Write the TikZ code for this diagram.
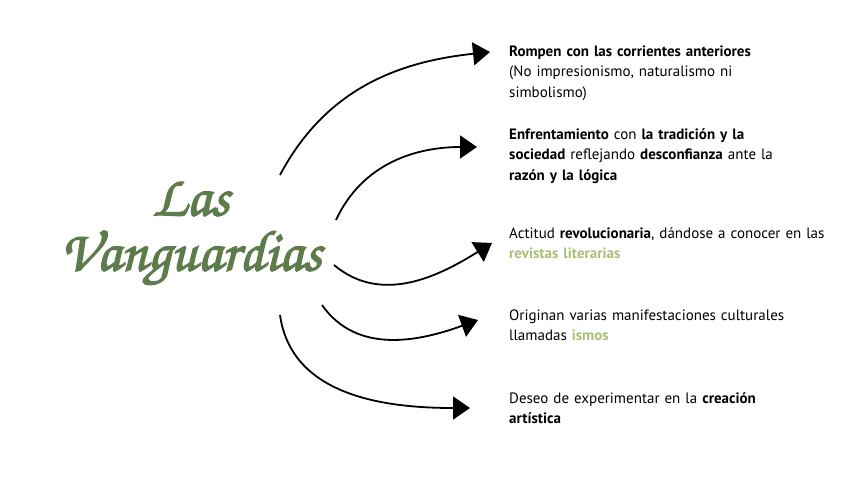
\documentclass[tikz,border=0pt]{standalone}
\usepackage{fontspec}
\setmainfont{PT Sans}
\usepackage{tikz}
\usetikzlibrary{arrows.meta}

\definecolor{verdetitulo}{HTML}{5E7B4C}
\definecolor{verdeclaro}{HTML}{A9BF78}

\tikzset{
    flecha/.style={line width=1.8pt, -{Triangle[length=17pt,width=23pt]}},
    texto/.style={anchor=base west, inner sep=0pt, text width=335pt, align=left,
        font=\fontsize{15}{20.5}\selectfont}
}
\newcommand{\resalte}[1]{\textbf{\textcolor{verdeclaro}{#1}}}
\newcommand{\trazo}[1]{\special{pdf:literal direct 2 Tr 1.3 w}#1\special{pdf:literal direct 0 Tr}}

\begin{document}
\begin{tikzpicture}[x=1pt,y=1pt]
    \useasboundingbox (0,0) rectangle (848,-477);
    \node[text=verdetitulo, align=center,
          font=\fontencoding{T1}\fontfamily{pzc}\fontseries{mb}\fontshape{it}\fontsize{58}{55}\selectfont]
        (titulo) at (191,-234) {\trazo{Las}\\\trazo{Vanguardias}};

    \node[texto] (t1) at (509,-56) {\textbf{Rompen con las corrientes anteriores}\\
        (No impresionismo, naturalismo ni\\ simbolismo)};
    \node[texto] (t2) at (509,-139) {\textbf{Enfrentamiento} con \textbf{la tradición y la}\\
        \textbf{sociedad} reflejando \textbf{desconfianza} ante la\\ \textbf{razón y la lógica}};
    \node[texto] (t3) at (509,-238) {Actitud \textbf{revolucionaria}, dándose a conocer en las\\
        \resalte{revistas literarias}};
    \node[texto] (t4) at (509,-320) {Originan varias manifestaciones culturales\\
        llamadas \resalte{ismos}};
    \node[texto] (t5) at (509,-403) {Deseo de experimentar en la \textbf{creación}\\
        \textbf{artística}};

    \coordinate (s1) at (280,-175);
    \coordinate (s2) at (336,-220);
    \coordinate (s3) at (334,-265);
    \coordinate (s4) at (322,-305);
    \coordinate (s5) at (280,-315);

    \draw[flecha] (s1) to[out=62, in=186] ([shift={(-19,4)}]t1.base west);
    \draw[flecha] (s2) to[out=65, in=180] ([shift={(-32,-8)}]t2.base west);
    \draw[flecha] (s3) to[out=-40, in=212] ([shift={(-17,-5)}]t3.base west);
    \draw[flecha] (s4) to[out=-55, in=200] ([shift={(-31,0)}]t4.base west);
    \draw[flecha] (s5) to[out=-82, in=180] ([shift={(-39,-5)}]t5.base west);
\end{tikzpicture}
\end{document}
